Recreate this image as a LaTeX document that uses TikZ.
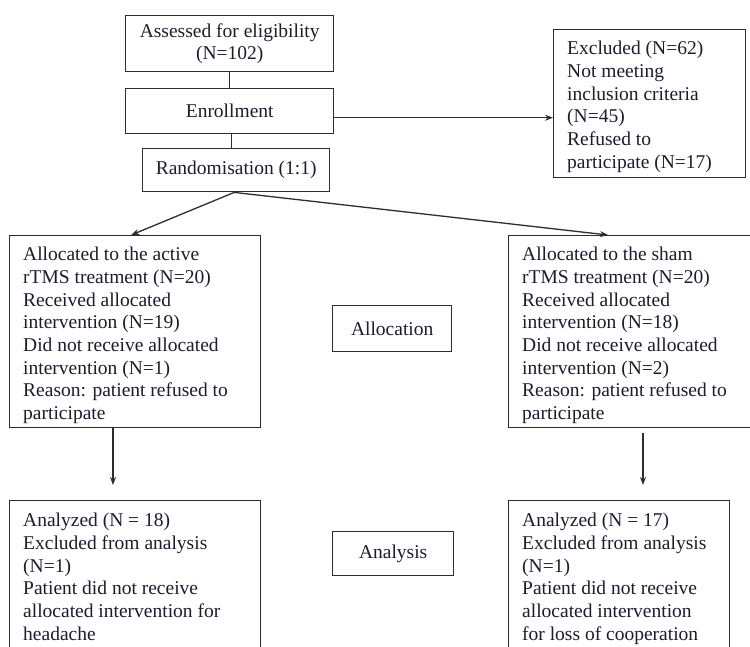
\documentclass[tikz,border=0pt]{standalone}
\usepackage{fontspec}
\setmainfont{Liberation Serif}
\usetikzlibrary{arrows.meta}
\definecolor{ink}{RGB}{28,28,48}
\definecolor{edge}{RGB}{45,45,45}
\begin{document}
\begin{tikzpicture}[x=1pt,y={(0,-1pt)},
  every node/.style={text=ink, font=\fontsize{19.5}{22.7}\selectfont},
  frame/.style={draw=edge, line width=1.4pt, rectangle, inner sep=0pt, anchor=north west},
  cbox/.style={frame, align=center},
  txt/.style={anchor=north west, align=left, inner xsep=14pt, inner ysep=12pt},
  conn/.style={draw=edge, line width=1.3pt},
  arr/.style={conn, -{Stealth[length=8pt,width=6pt]}}]
\useasboundingbox (0,0) rectangle (750,646);

% top column
\node[cbox, minimum width=208pt, minimum height=56pt] (assess) at (125,15)
  {Assessed for eligibility\\(N=102)};
\node[cbox, minimum width=208pt, minimum height=45pt] (enroll) at (125,88) {Enrollment};
\node[cbox, minimum width=187pt, minimum height=43pt] (rand) at (142,148) {Randomisation (1:1)};

% excluded
\node[frame, minimum width=192pt, minimum height=148pt] (excl) at (553,29) {};
\node[txt] (exclt) at (excl.north west)
  {Excluded (N=62)\\Not meeting\\inclusion criteria\\(N=45)\\Refused to\\participate (N=17)};

% allocation row
\node[frame, minimum width=251pt, minimum height=192pt] (al1) at (9,235) {};
\node[txt] (al1t) at (al1.north west)
  {Allocated to the active\\rTMS treatment (N=20)\\Received allocated\\intervention (N=19)\\Did not receive allocated\\intervention (N=1)\\Reason: patient refused to\\participate};
\node[frame, minimum width=262pt, minimum height=192pt] (al2) at (508,235) {};
\node[txt] (al2t) at (al2.north west)
  {Allocated to the sham\\rTMS treatment (N=20)\\Received allocated\\intervention (N=18)\\Did not receive allocated\\intervention (N=2)\\Reason: patient refused to\\participate};
\node[cbox, minimum width=119pt, minimum height=46pt] (alloc) at (332,305) {Allocation};

% analysis row
\node[frame, minimum width=251pt, minimum height=190pt] (an1) at (9,500) {};
\node[txt, inner ysep=13pt] (an1t) at (an1.north west)
  {Analyzed (N = 18)\\Excluded from analysis\\(N=1)\\Patient did not receive\\allocated intervention for\\headache};
\node[frame, minimum width=221pt, minimum height=190pt] (an2) at (508,500) {};
\node[txt, inner ysep=13pt] (an2t) at (an2.north west)
  {Analyzed (N = 17)\\Excluded from analysis\\(N=1)\\Patient did not receive\\allocated intervention\\for loss of cooperation};
\node[cbox, minimum width=121pt, minimum height=44pt] (analysis) at (332,531) {Analysis};

% connectors
\draw[conn] (assess.south) -- (enroll.north);
\draw[conn] ([xshift=2pt]enroll.south) -- ([xshift=2pt]enroll.south |- rand.north);
\draw[arr] ([yshift=-6.5pt]enroll.east) coordinate (e1) -- (e1 -| excl.west);
\draw[arr] ([xshift=-2pt]rand.south) -- ([xshift=-4pt]al1.north);
\draw[arr] ([xshift=-2pt]rand.south) -- ([xshift=100pt]al2.north west);
\draw[arr] ([xshift=104pt]al1.south west) -- ([xshift=104pt,yshift=15pt]an1.north west);
\draw[arr] ([xshift=135pt,yshift=-5pt]al2.south west) -- ([xshift=135pt,yshift=15pt]an2.north west);
\end{tikzpicture}
\end{document}
